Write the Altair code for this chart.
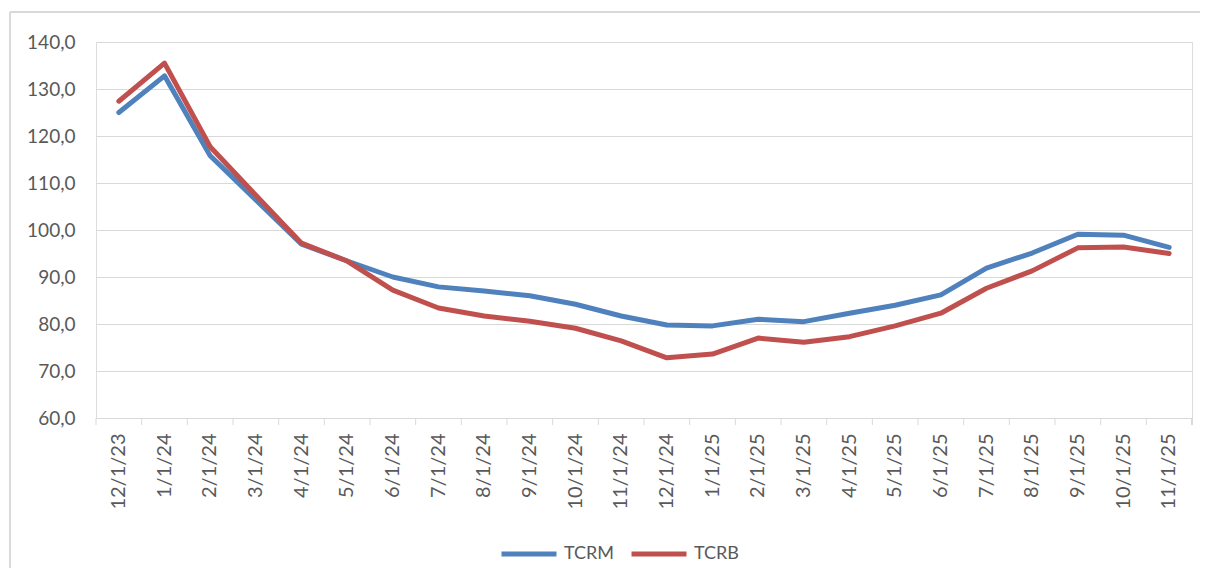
import altair as alt
import pandas as pd

dates = ["12/1/23", "1/1/24", "2/1/24", "3/1/24", "4/1/24", "5/1/24", "6/1/24",
         "7/1/24", "8/1/24", "9/1/24", "10/1/24", "11/1/24", "12/1/24", "1/1/25",
         "2/1/25", "3/1/25", "4/1/25", "5/1/25", "6/1/25", "7/1/25", "8/1/25",
         "9/1/25", "10/1/25", "11/1/25"]
tcrm = [125.0, 132.8, 115.8, 106.4, 97.0, 93.4, 90.0, 87.9, 87.0, 86.0, 84.2, 81.7,
        79.8, 79.6, 81.0, 80.5, 82.3, 84.0, 86.2, 91.9, 95.1, 99.1, 98.9, 96.3]
tcrb = [127.4, 135.5, 117.7, 107.4, 97.2, 93.4, 87.2, 83.4, 81.7, 80.6, 79.1, 76.4,
        72.8, 73.6, 77.0, 76.1, 77.3, 79.6, 82.3, 87.6, 91.3, 96.2, 96.4, 95.0]
series = ["TCRM", "TCRB"]
colors = ["#4f81bd", "#c0504d"]
y_ticks = [60, 70, 80, 90, 100, 110, 120, 130, 140]

rows = []
for s, vals in zip(series, [tcrm, tcrb]):
    for i, (d, v) in enumerate(zip(dates, vals)):
        rows.append({"date": d, "value": v, "serie": s, "order": i})
df = pd.DataFrame(rows)
df_ticks = pd.DataFrame({"date": dates})

FONT = "Lato"
W, H = 1096, 376

xscale = alt.Scale(type="band", domain=dates, paddingInner=0, paddingOuter=0)
xaxis = alt.Axis(title=None, labelAngle=-90, labelAlign="right", labelBaseline="middle",
                 labelFontSize=20, labelColor="#595959", labelFont=FONT,
                 labelPadding=15, ticks=False, domainColor="#d9d9d9",
                 domainWidth=1, grid=False)

lines = alt.Chart(df).mark_line(strokeWidth=5, strokeCap="round", strokeJoin="round").encode(
    x=alt.X("date:O", scale=xscale, sort=dates, axis=xaxis),
    y=alt.Y("value:Q", scale=alt.Scale(domain=[60, 140], nice=False, zero=False),
            axis=alt.Axis(title=None, values=y_ticks, labelFontSize=19, labelColor="#595959",
                          labelFont=FONT, labelPadding=21, ticks=False, domain=False,
                          gridColor="#d9d9d9", gridWidth=1,
                          labelExpr="replace(format(datum.value, '.1f'), '.', ',')")),
    color=alt.Color("serie:N", scale=alt.Scale(domain=series, range=colors), sort=series,
                    legend=alt.Legend(title=None, orient="none", direction="horizontal",
                                      legendX=403, legendY=482, symbolType="stroke",
                                      symbolSize=3025, symbolStrokeWidth=5,
                                      labelFontSize=18, labelFont=FONT, labelColor="#595959",
                                      labelOffset=5, columnPadding=6, padding=0)),
    order=alt.Order("order:Q"),
)

ticks = alt.Chart(df_ticks).mark_rule(color="#d9d9d9", strokeWidth=1).encode(
    x=alt.X("date:O", scale=xscale, sort=dates, bandPosition=0, axis=xaxis),
    y=alt.value(H), y2=alt.value(H + 7),
)
last_tick = alt.Chart(df_ticks).mark_rule(color="#d9d9d9", strokeWidth=1).encode(
    x=alt.value(W), y=alt.value(H), y2=alt.value(H + 7),
)
border = alt.Chart(df_ticks).mark_rect(fillOpacity=0, stroke="#d9d9d9", strokeWidth=1, clip=False).encode(
    x=alt.value(-86), x2=alt.value(W + 40), y=alt.value(-30), y2=alt.value(H + 260),
)

chart = alt.layer(border, ticks, last_tick, lines).properties(
    width=W, height=H,
    autosize=alt.AutoSizeParams(type="none"),
    padding={"left": 88, "top": 34, "right": 8, "bottom": 150},
).configure_view(stroke=None).configure(background="white")

chart.save("out.html", embed_options={"renderer": "svg", "actions": False})
